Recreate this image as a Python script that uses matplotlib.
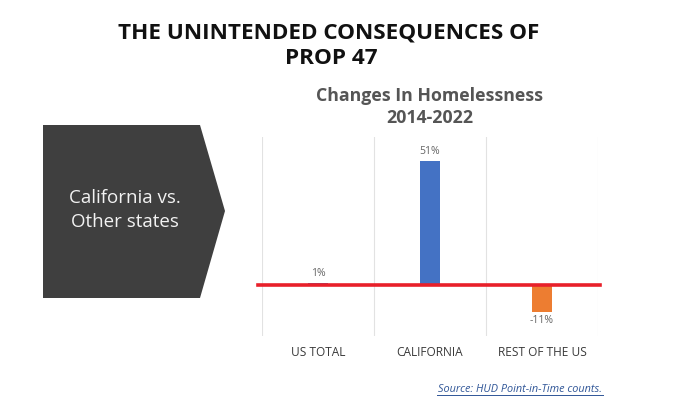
import matplotlib.pyplot as plt
from matplotlib.patches import Polygon

categories = ["US TOTAL", "CALIFORNIA", "REST OF THE US"]
values = [1, 51, -11]
labels = ["1%", "51%", "-11%"]
colors = ["#4472C4", "#4472C4", "#ED7D31"]

W, H = 680, 409
fig = plt.figure(figsize=(6.8, 4.09), dpi=100)
fig.patch.set_facecolor("white")

def fx(x): return x / W
def fy(y): return 1 - y / H

ax = fig.add_axes([fx(262), fy(336), fx(598) - fx(262), fy(137) - fy(336)])
x = range(len(categories))
ax.bar(x, values, width=0.18, color=colors, zorder=2)
ax.set_xlim(-0.5, 2.5)
ax.set_ylim(-21, 61)
for s in ax.spines.values():
    s.set_visible(False)
ax.set_yticks([])
ax.set_xticks([])
for b in [-0.5, 0.5, 1.5, 2.5]:
    ax.axvline(b, color="#e2e2e2", lw=0.8, zorder=1)
ax.axhline(0, color="#e8202a", lw=2.6, zorder=3, xmin=-0.012, xmax=1.006, clip_on=False)
for i, (v, l) in enumerate(zip(values, labels)):
    if v >= 0:
        ax.text(i, v + 1.6, l, ha="center", va="bottom", fontsize=7.5, color="#666666", family="Open Sans")
    else:
        ax.text(i, v - 1.5, l, ha="center", va="top", fontsize=7.5, color="#666666", family="Open Sans")
for i, c in enumerate(categories):
    fig.text(fx(318 + 112 * i), fy(353), c, ha="center", va="center", fontsize=8.6, color="#3a3a3a", family="Open Sans")

fig.text(fx(430), fy(96), "Changes In Homelessness", ha="center", va="center", fontsize=12.8,
         fontweight="bold", color="#555555", family="Open Sans")
fig.text(fx(430), fy(118), "2014-2022", ha="center", va="center", fontsize=12.8,
         fontweight="bold", color="#555555", family="Open Sans")

fig.text(fx(329), fy(33), "THE UNINTENDED CONSEQUENCES OF", ha="center", va="center", fontsize=16.2,
         fontweight="bold", color="#111111", family="Open Sans")
fig.text(fx(331), fy(59), "PROP 47", ha="center", va="center", fontsize=16.2,
         fontweight="bold", color="#111111", family="Open Sans")

pts = [(43, 125), (200, 125), (225, 211), (200, 298), (43, 298)]
poly = Polygon([(fx(a), fy(b)) for a, b in pts], closed=True, transform=fig.transFigure,
               facecolor="#3f3f3f", edgecolor="none")
fig.patches.append(poly)
fig.text(fx(125), fy(198), "California vs.", ha="center", va="center", fontsize=13.5,
         color="#f2f2f2", family="Open Sans")
fig.text(fx(125), fy(222), "Other states", ha="center", va="center", fontsize=13.5,
         color="#f2f2f2", family="Open Sans")

fig.text(fx(520), fy(389), "Source: HUD Point-in-Time counts.", ha="center", va="center",
         fontsize=7.8, style="italic", color="#2F5597", family="Open Sans")
fig.add_artist(plt.Line2D([fx(437), fx(603)], [fy(395), fy(395)], color="#2F5597", lw=0.7,
                          transform=fig.transFigure))

fig.savefig("out.png", dpi=100)
